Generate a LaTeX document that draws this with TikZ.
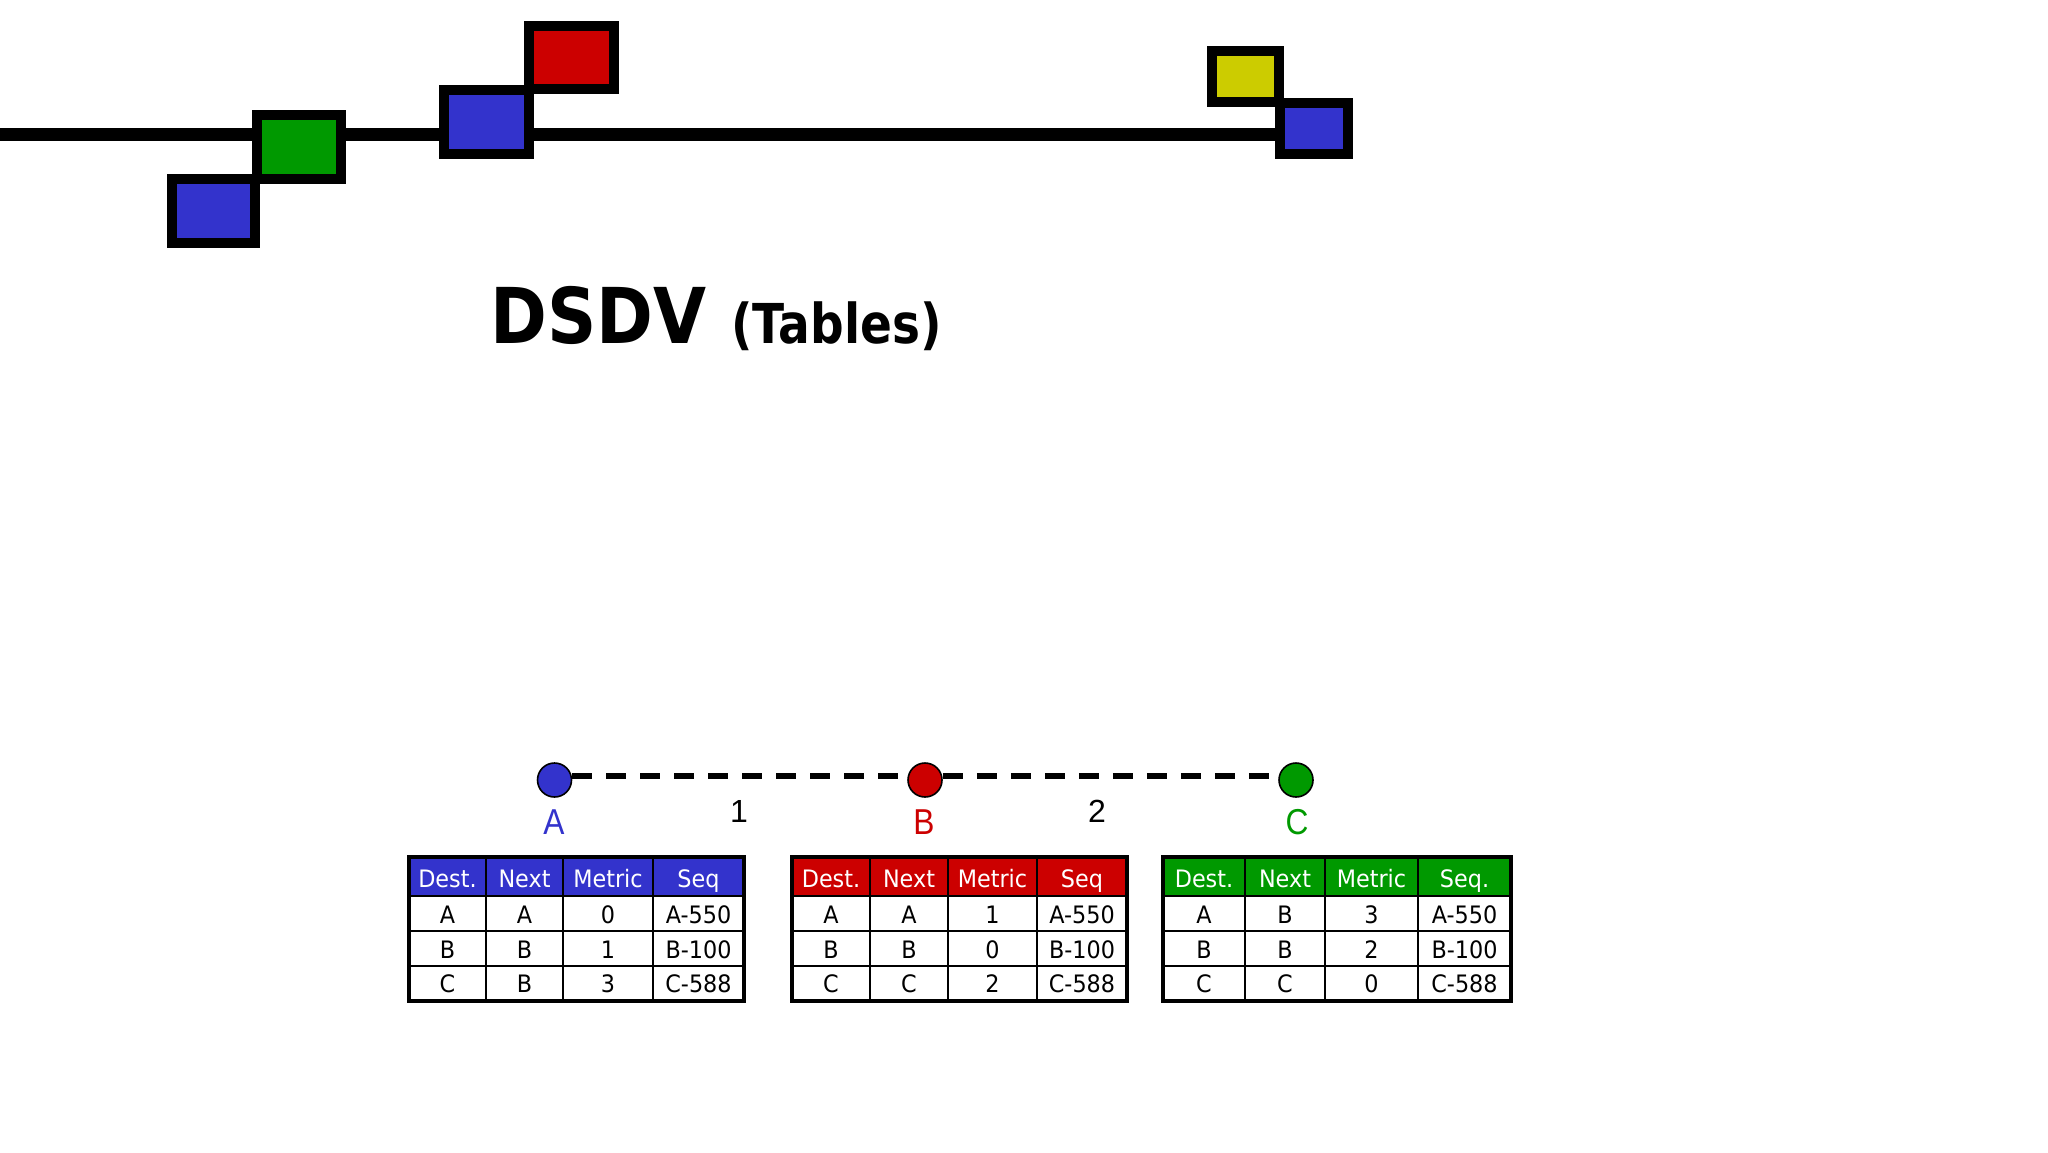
\documentclass[tikz,border=0pt]{standalone}
\usepackage{fontspec}
\newfontfamily\tfont[FakeStretch=0.93]{DejaVu Sans}
\newfontfamily\titfont[FakeStretch=0.89]{DejaVu Sans}
\newfontfamily\subfont[FakeStretch=0.855]{DejaVu Sans}
\newfontfamily\lfont[FakeStretch=0.88]{Liberation Sans}
\newfontfamily\wfont{Liberation Sans}
\definecolor{cA}{RGB}{51,51,204}
\definecolor{cB}{RGB}{204,0,0}
\definecolor{cC}{RGB}{0,153,0}
\definecolor{cY}{RGB}{204,204,0}
\tikzset{
  sq/.style={line width=5pt, draw=black},
  gridline/.style={line width=1pt},
  outerbox/.style={line width=2.2pt},
  cell/.style={font=\tfont\fontsize{12pt}{14pt}\selectfont, inner sep=0pt, anchor=base},
  hcell/.style={cell, text=white},
  vertex/.style={circle, draw=black, line width=0.8pt, minimum size=17pt, inner sep=0pt},
  vlabel/.style={font=\lfont\fontsize{18pt}{20pt}\selectfont, inner sep=0pt},
  wlabel/.style={font=\wfont\fontsize{16pt}{18pt}\selectfont, inner sep=0pt},
  link/.style={line width=3pt, dash pattern=on 10pt off 7pt},
}
\begin{document}
\begin{tikzpicture}[x=0.5pt,y=-0.5pt]
\useasboundingbox (0,0) rectangle (2048,1152);
\fill[white] (0,0) rectangle (2048,1152);

% top decoration
\draw[line width=6.5pt] (0,134.5) -- (1280,134.5);
\filldraw[sq, fill=cA] (172,179) rectangle (255,243);
\filldraw[sq, fill=cC] (257,115) rectangle (341,179);
\filldraw[sq, fill=cA] (444,90) rectangle (529,154);
\filldraw[sq, fill=cB] (529,26) rectangle (614,89);
\filldraw[sq, fill=cY] (1212,51) rectangle (1279,102);
\filldraw[sq, fill=cA] (1280,103) rectangle (1348,154);

% title
\node[anchor=base west, inner sep=0pt, font=\titfont\bfseries\fontsize{38.5pt}{40pt}\selectfont] (title) at (490,343) {DSDV};
\node[anchor=base west, inner sep=0pt, font=\subfont\bfseries\fontsize{27.5pt}{30pt}\selectfont] (subtitle) at (731,343) {(Tables)};

% graph
\node[vertex, fill=cA] (A) at (554.5,780) {};
\node[vertex, fill=cB] (B) at (925,780) {};
\node[vertex, fill=cC] (C) at (1296,780) {};
\draw[link] ([yshift=2pt]A.east) -- ([yshift=2pt]B.west);
\draw[link] ([yshift=2pt]B.east) -- ([yshift=2pt]C.west);
\node[vlabel, text=cA] (lA) at (554,822.5) {A};
\node[vlabel, text=cB] (lB) at (924,822.5) {B};
\node[vlabel, text=cC] (lC) at (1297,822.5) {C};
\node[wlabel] (w1) at (739,811) {1};
\node[wlabel] (w2) at (1097,811) {2};

% tables
\foreach \p/\c/\xa/\xb/\xc/\xd/\xe/\sq/\na/\nb/\nc/\ma/\mb/\mc in {
  A/cA/409/486/563/653/744/Seq/A/B/B/0/1/3,
  B/cB/792/870/948/1037/1127/Seq/A/B/C/1/0/2,
  C/cC/1163/1245/1325/1418/1511/Seq./B/B/C/3/2/0}{
  \fill[\c] (\xa,857) rectangle (\xe,896);
  \draw[gridline] (\xa,896) -- (\xe,896) (\xa,931) -- (\xe,931) (\xa,966) -- (\xe,966)
                  (\xb,857) -- (\xb,1001) (\xc,857) -- (\xc,1001) (\xd,857) -- (\xd,1001);
  \draw[outerbox] (\xa,857) rectangle (\xe,1001);
  \pgfmathsetmacro\ca{(\xa+\xb)/2}
  \pgfmathsetmacro\cb{(\xb+\xc)/2}
  \pgfmathsetmacro\cc{(\xc+\xd)/2}
  \pgfmathsetmacro\cd{(\xd+\xe)/2}
  \node[hcell] (\p h1) at (\ca,887) {Dest.};
  \node[hcell] (\p h2) at (\cb,887) {Next};
  \node[hcell] (\p h3) at (\cc,887) {Metric};
  \node[hcell] (\p h4) at (\cd,887) {\sq};
  \node[cell] (\p a1) at (\ca,923) {A};
  \node[cell] (\p a2) at (\cb,923) {\na};
  \node[cell] (\p a3) at (\cc,923) {\ma};
  \node[cell] (\p a4) at (\cd,923) {A-550};
  \node[cell] (\p b1) at (\ca,958) {B};
  \node[cell] (\p b2) at (\cb,958) {\nb};
  \node[cell] (\p b3) at (\cc,958) {\mb};
  \node[cell] (\p b4) at (\cd,958) {B-100};
  \node[cell] (\p c1) at (\ca,992) {C};
  \node[cell] (\p c2) at (\cb,992) {\nc};
  \node[cell] (\p c3) at (\cc,992) {\mc};
  \node[cell] (\p c4) at (\cd,992) {C-588};
}
\end{tikzpicture}
\end{document}
